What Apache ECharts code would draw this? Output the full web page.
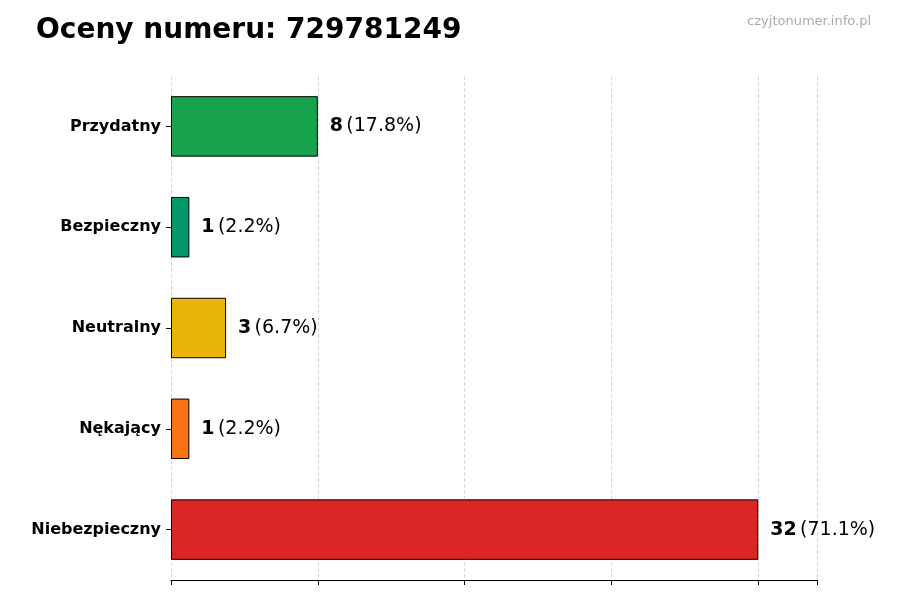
<!DOCTYPE html>
<html><head><meta charset="utf-8">
<script src="https://cdn.jsdelivr.net/npm/echarts@6/dist/echarts.min.js"></script>
<style>html,body{margin:0;background:#fff}#c{width:900px;height:600px}</style>
</head><body><div id="c"></div>
<script>
// dane wykresu
var categories = ['Przydatny', 'Bezpieczny', 'Neutralny', 'Nękający', 'Niebezpieczny'];
var counts = [8, 1, 3, 1, 32];
var percents = ['17.8%', '2.2%', '6.7%', '2.2%', '71.1%'];
var colors = ['#16a34a', '#059669', '#eab308', '#f97316', '#dc2626'];

var chart = echarts.init(document.getElementById('c'));
chart.setOption({
    animation: false,
    title: [
        {text: 'Oceny numeru: 729781249', left: 31, top: 12,
         textStyle: {fontFamily: 'DejaVu Sans', fontSize: 28, fontWeight: 'bold', color: '#000'}},
        {text: 'czyjtonumer.info.pl', right: 24, top: 10,
         textStyle: {fontFamily: 'DejaVu Sans', fontSize: 13, fontWeight: 'normal', color: '#aaa'}}
    ],
    grid: {left: 171, right: 83, top: 76, bottom: 20},
    xAxis: {
        type: 'value', min: 0, max: 35.2, interval: 8,
        axisLabel: {show: false},
        axisLine: {show: true, lineStyle: {color: '#000'}},
        axisTick: {show: true, length: 5, lineStyle: {color: '#000'}},
        splitLine: {show: true, lineStyle: {color: '#d9d9d9', type: 'dashed'}}
    },
    yAxis: {
        type: 'category', inverse: true, data: categories,
        axisLine: {show: false},
        axisTick: {show: true, length: 5, alignWithLabel: true, lineStyle: {color: '#000'}},
        axisLabel: {fontFamily: 'DejaVu Sans', fontSize: 16, fontWeight: 'bold', color: '#000', margin: 10}
    },
    series: [{
        type: 'bar', barWidth: '60%',
        data: counts.map(function (v, i) {
            return {value: v, itemStyle: {color: colors[i], borderColor: '#000', borderWidth: 1}};
        }),
        label: {
            show: true, position: 'right', distance: 12,
            formatter: function (p) { return '{b|' + p.value + '} {n|(' + percents[p.dataIndex] + ')}'; },
            rich: {
                b: {fontFamily: 'DejaVu Sans', fontSize: 19, fontWeight: 'bold', color: '#000'},
                n: {fontFamily: 'DejaVu Sans', fontSize: 19, color: '#000'}
            }
        }
    }]
});
</script></body></html>
